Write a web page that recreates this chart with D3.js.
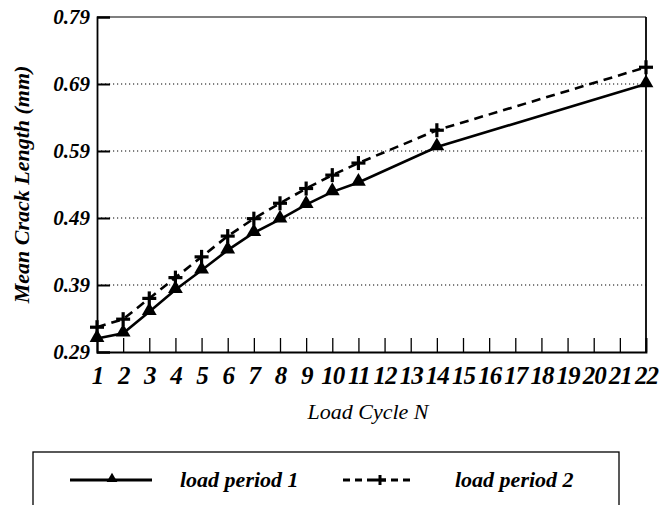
<!DOCTYPE html>
<html>
<head>
<meta charset="utf-8">
<script src="https://cdn.jsdelivr.net/npm/d3@7"></script>
<style>
  body { margin: 0; background: #fff; }
  svg { display: block; }
</style>
</head>
<body>
<script>
// load cycles and mean crack length (mm)
var cycles = [1, 2, 3, 4, 5, 6, 7, 8, 9, 10, 11, 14, 22];
var period1 = [0.310, 0.318, 0.350, 0.383, 0.412, 0.442, 0.468, 0.488, 0.510, 0.529, 0.543, 0.596, 0.690];
var period2 = [0.327, 0.339, 0.370, 0.401, 0.432, 0.463, 0.489, 0.512, 0.534, 0.554, 0.572, 0.621, 0.715];
var xTicks = d3.range(1, 23);
var yTicks = [0.29, 0.39, 0.49, 0.59, 0.69, 0.79];
var seriesNames = ["load period 1", "load period 2"];

var width = 659,
    height = 505;
var plotL = 97, plotR = 646, plotT = 17, plotB = 352;

var svg = d3.select("body").append("svg")
    .attr("width", width)
    .attr("height", height)

var x = d3.scaleLinear().domain([1, 22]).range([plotL, plotR]);
var y = d3.scaleLinear().domain([0.29, 0.79]).range([plotB, plotT]);

var serif = "'Liberation Serif', 'Times New Roman', serif";

/* dotted grid lines */
svg.selectAll("line.grid")
    .data(yTicks.slice(1, -1))
    .enter().append("line")
    .attr("x1", plotL).attr("x2", plotR)
    .attr("y1", function (d) { return y(d) })
    .attr("y2", function (d) { return y(d) })
    .attr("stroke", "#000")
    .attr("stroke-width", 1)
    .attr("stroke-dasharray", "1.2,2.8")

/* frame: top and right border */
svg.append("line").attr("x1", plotL).attr("x2", plotR).attr("y1", plotT).attr("y2", plotT)
    .attr("stroke", "#000").attr("stroke-width", 1.2)
svg.append("line").attr("x1", plotR).attr("x2", plotR).attr("y1", plotT).attr("y2", plotB)
    .attr("stroke", "#000").attr("stroke-width", 1.8)

/* axes with inward ticks */
var xAxis = svg.append("g")
    .attr("transform", "translate(0," + plotB + ")")
    .call(d3.axisBottom(x).tickValues(xTicks).tickSize(-14).tickPadding(14).tickFormat(d3.format("d")))
xAxis.select(".domain").attr("stroke-width", 1.8)
xAxis.selectAll(".tick line").attr("stroke-width", 1.3)
xAxis.selectAll("text")
    .attr("font-family", serif)
    .attr("font-style", "italic")
    .attr("font-weight", "bold")
    .attr("font-size", 25)
    .attr("letter-spacing", -1)
    .attr("fill", "#000")

var yAxis = svg.append("g")
    .attr("transform", "translate(" + plotL + ",0)")
    .call(d3.axisLeft(y).tickValues(yTicks).tickSize(-13).tickPadding(7).tickFormat(d3.format(".2f")))
yAxis.select(".domain").attr("stroke-width", 1.8)
yAxis.selectAll(".tick line").attr("stroke-width", 2)
yAxis.selectAll("text")
    .attr("font-family", serif)
    .attr("font-style", "italic")
    .attr("font-weight", "bold")
    .attr("font-size", 21)
    .attr("fill", "#000")
svg.selectAll(".domain").attr("stroke", "#000")
svg.selectAll(".tick line").attr("stroke", "#000")

/* series lines */
var line = d3.line()
    .x(function (d) { return x(d[0]) })
    .y(function (d) { return y(d[1]) })

var data1 = cycles.map(function (c, i) { return [c, period1[i]] })
var data2 = cycles.map(function (c, i) { return [c, period2[i]] })

svg.append("path").datum(data2)
    .attr("d", line)
    .attr("fill", "none")
    .attr("stroke", "#000")
    .attr("stroke-width", 2.6)
    .attr("stroke-dasharray", "9,6")

svg.append("path").datum(data1)
    .attr("d", line)
    .attr("fill", "none")
    .attr("stroke", "#000")
    .attr("stroke-width", 2.6)

var tri = d3.symbol().type(d3.symbolTriangle).size(95)

svg.selectAll("path.tri")
    .data(data1)
    .enter().append("path")
    .attr("d", tri)
    .attr("transform", function (d) { return "translate(" + x(d[0]) + "," + (y(d[1]) - 1) + ")" })
    .attr("fill", "#000")

/* plus markers drawn as two strokes */
var pg = svg.selectAll("g.plus")
    .data(data2)
    .enter().append("g")
    .attr("transform", function (d) { return "translate(" + x(d[0]) + "," + y(d[1]) + ")" })
pg.append("line").attr("x1", -7).attr("x2", 7).attr("y1", 0).attr("y2", 0)
    .attr("stroke", "#000").attr("stroke-width", 3.2)
pg.append("line").attr("x1", 0).attr("x2", 0).attr("y1", -7).attr("y2", 7)
    .attr("stroke", "#000").attr("stroke-width", 3.2)

/* axis titles */
svg.append("text")
    .attr("transform", "translate(29," + ((plotT + plotB) / 2) + ") rotate(-90)")
    .attr("text-anchor", "middle")
    .attr("font-family", serif)
    .attr("font-style", "italic")
    .attr("font-weight", "bold")
    .attr("font-size", 22)
    .text("Mean Crack Length (mm)")

svg.append("text")
    .attr("x", 368)
    .attr("y", 419)
    .attr("text-anchor", "middle")
    .attr("font-family", serif)
    .attr("font-style", "italic")
    .attr("font-size", 22)
    .text("Load Cycle N")

/* legend box, runs off the bottom edge */
svg.append("rect")
    .attr("x", 33).attr("y", 452)
    .attr("width", 586).attr("height", 80)
    .attr("fill", "none")
    .attr("stroke", "#000")
    .attr("stroke-width", 1.3)

svg.append("line").attr("x1", 70).attr("x2", 152).attr("y1", 480).attr("y2", 480)
    .attr("stroke", "#000").attr("stroke-width", 2.8)
svg.append("path").attr("d", d3.symbol().type(d3.symbolTriangle).size(50))
    .attr("transform", "translate(112,479)").attr("fill", "#000")

svg.append("line").attr("x1", 343).attr("x2", 415).attr("y1", 480).attr("y2", 480)
    .attr("stroke", "#000").attr("stroke-width", 2.8)
    .attr("stroke-dasharray", "7,5")
var lp = svg.append("g").attr("transform", "translate(380,480)")
lp.append("line").attr("x1", -6).attr("x2", 6).attr("stroke", "#000").attr("stroke-width", 3)
lp.append("line").attr("y1", -5).attr("y2", 5).attr("stroke", "#000").attr("stroke-width", 3)

svg.selectAll("text.leg")
    .data(seriesNames)
    .enter().append("text")
    .attr("class", "leg")
    .attr("x", function (d, i) { return i === 0 ? 180 : 455 })
    .attr("y", 487)
    .attr("font-family", serif)
    .attr("font-style", "italic")
    .attr("font-weight", "bold")
    .attr("font-size", 22)
    .text(function (d) { return d })
</script>
</body>
</html>
